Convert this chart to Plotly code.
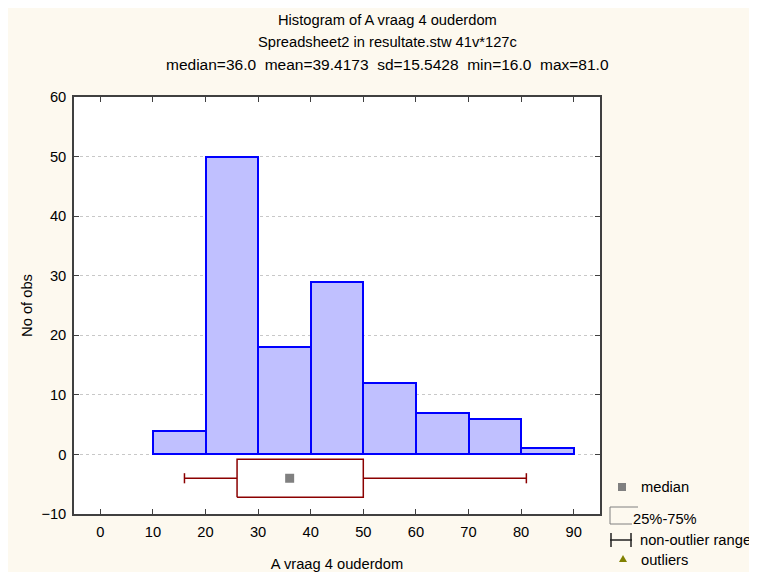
import plotly.graph_objects as go

# ---- data ----
bin_left = [10, 20, 30, 40, 50, 60, 70, 80]
bin_width = 10
counts = [4, 50, 18, 29, 12, 7, 6, 1]

stat_min = 16.0
stat_q1 = 26.0
stat_median = 36.0
stat_q3 = 50.0
stat_max = 81.0

x_ticks = [0, 10, 20, 30, 40, 50, 60, 70, 80, 90]
y_ticks = [-10, 0, 10, 20, 30, 40, 50, 60]

title_lines = [
    "Histogram of A vraag 4 ouderdom",
    "Spreadsheet2 in resultate.stw 41v*127c",
    "median=36.0  mean=39.4173  sd=15.5428  min=16.0  max=81.0",
]
legend_labels = ["median", "25%-75%", "non-outlier range", "outliers"]

# ---- style / layout constants (screen pixel coordinates) ----
OFF = 8  # page body margin
W, H = 757 - OFF, 572 - OFF
L, R, T, B = 74, 600, 97, 514
FONT = "Liberation Sans, Arial, sans-serif"
FS = 14.7
TITLE_FS = [14.7, 14.7, 15.5]
BG = "#FDF9EF"
BOX_Y = -4.0
BOX_HALF = 3.2
CAP_HALF = 0.85
BOXCOL = "#8B0000"


def px(xs):
    return (xs - L) / (R - L)


def py(ys):
    return (B - ys) / (B - T)


fig = go.Figure()

# histogram bars
centers = [b + bin_width / 2 for b in bin_left]
fig.add_trace(go.Bar(
    x=centers, y=counts, width=[bin_width] * len(counts),
    marker=dict(color="#C0C0FF", line=dict(color="#0000FF", width=2)),
    showlegend=False, hoverinfo="x+y",
))

# box: 25%-75%
fig.add_trace(go.Scatter(
    x=[stat_q1, stat_q3, stat_q3, stat_q1, stat_q1],
    y=[BOX_Y - BOX_HALF, BOX_Y - BOX_HALF, BOX_Y + BOX_HALF, BOX_Y + BOX_HALF, BOX_Y - BOX_HALF],
    mode="lines", line=dict(color=BOXCOL, width=1.5),
    fill="toself", fillcolor="white", showlegend=False, hoverinfo="skip",
))
# whiskers
fig.add_trace(go.Scatter(
    x=[stat_min, stat_q1, None, stat_q3, stat_max],
    y=[BOX_Y, BOX_Y, None, BOX_Y, BOX_Y],
    mode="lines", line=dict(color=BOXCOL, width=1.5),
    showlegend=False, hoverinfo="skip",
))
# whisker caps
fig.add_trace(go.Scatter(
    x=[stat_min, stat_min, None, stat_max, stat_max],
    y=[BOX_Y - CAP_HALF, BOX_Y + CAP_HALF, None, BOX_Y - CAP_HALF, BOX_Y + CAP_HALF],
    mode="lines", line=dict(color=BOXCOL, width=1.5),
    showlegend=False, hoverinfo="skip",
))
# median
fig.add_trace(go.Scatter(
    x=[stat_median], y=[BOX_Y], mode="markers",
    marker=dict(symbol="square", size=9, color="#808080"),
    showlegend=False, hoverinfo="x",
))

axis_common = dict(
    showline=True, linecolor="#404040", linewidth=1.5, mirror="ticks",
    ticks="inside", ticklen=5, tickcolor="#404040", tickwidth=1,
    zeroline=False, automargin=False,
    tickfont=dict(family=FONT, size=FS, color="black"),
)

fig.update_xaxes(
    range=[-5, 95], tickvals=x_ticks, showgrid=False, ticklabelstandoff=4,
    title=dict(text="A vraag 4 ouderdom", font=dict(family=FONT, size=FS, color="black"), standoff=20),
    **axis_common,
)
fig.update_yaxes(
    range=[-10, 60], tickvals=y_ticks, showgrid=True, ticklabelstandoff=3,
    gridcolor="#C8C8C8", griddash="dot", gridwidth=1,
    title=dict(text="No of obs", font=dict(family=FONT, size=FS, color="black"), standoff=5),
    **axis_common,
)

annotations = []
for i, t in enumerate(title_lines):
    annotations.append(dict(
        text=t, x=px(387), y=py(20 + 22 * i), xref="paper", yref="paper",
        xanchor="center", yanchor="middle", showarrow=False,
        font=dict(family=FONT, size=TITLE_FS[i], color="black"),
    ))

leg_font = dict(family=FONT, size=FS, color="black")
leg_pos = [(639, 487), (631, 519), (638, 540), (639, 560)]
for lab, (lx, ly) in zip(legend_labels, leg_pos):
    annotations.append(dict(
        text=lab, x=px(lx), y=py(ly), xref="paper", yref="paper",
        xanchor="left", yanchor="middle", showarrow=False, font=leg_font,
    ))

shapes = []
# legend symbol: median
shapes.append(dict(type="rect", xref="paper", yref="paper",
                   x0=px(618), x1=px(626), y0=py(491), y1=py(483),
                   fillcolor="#808080", line=dict(width=0)))
# legend symbol: box
for (x0, y0, x1, y1) in [(610, 507, 638, 507), (610, 507, 610, 524), (610, 524, 632, 524)]:
    shapes.append(dict(type="line", xref="paper", yref="paper",
                       x0=px(x0), y0=py(y0), x1=px(x1), y1=py(y1),
                       line=dict(color="#808080", width=1)))
# legend symbol: whisker
for (x0, y0, x1, y1) in [(610, 540, 632, 540), (611, 533, 611, 547), (631, 533, 631, 547)]:
    shapes.append(dict(type="line", xref="paper", yref="paper",
                       x0=px(x0), y0=py(y0), x1=px(x1), y1=py(y1),
                       line=dict(color="#202020", width=1.5)))
# legend symbol: outliers triangle
tx, ty = 623, 559
shapes.append(dict(type="path", xref="paper", yref="paper",
                   path=f"M {px(tx-4)} {py(ty+3)} L {px(tx+4)} {py(ty+3)} L {px(tx)} {py(ty-4)} Z",
                   fillcolor="#808000", line=dict(width=0)))

fig.update_layout(
    width=W, height=H,
    margin=dict(l=L - OFF, r=W + OFF - R, t=T - OFF, b=H + OFF - B, pad=0),
    paper_bgcolor=BG, plot_bgcolor="white",
    font=dict(family=FONT, size=FS, color="black"),
    annotations=annotations, shapes=shapes,
    showlegend=False, bargap=0,
)

fig.write_html("out.html")
